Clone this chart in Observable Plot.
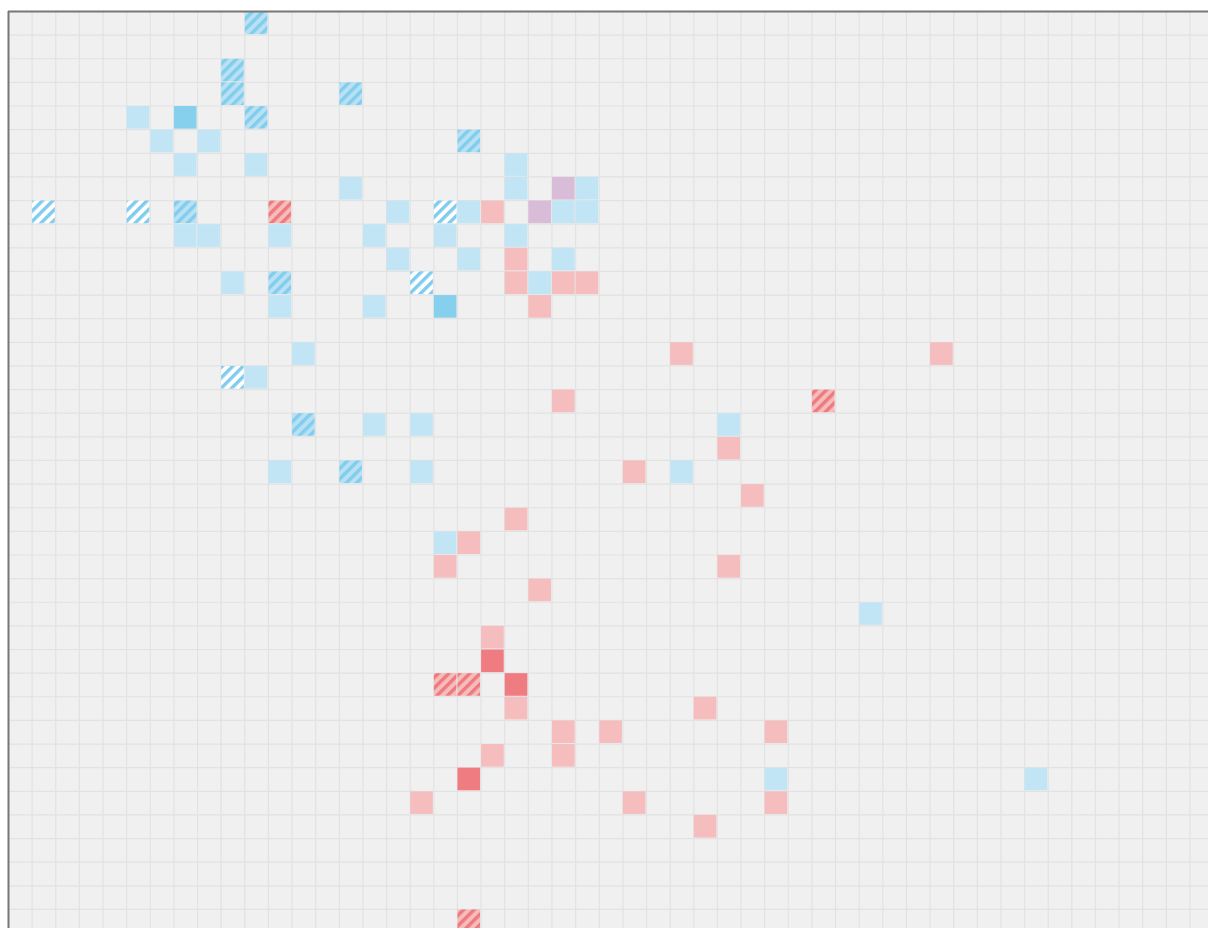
<!DOCTYPE html>
<html>
<head>
<meta charset="utf-8">
<script src="https://cdn.jsdelivr.net/npm/d3@7"></script>
<script src="https://cdn.jsdelivr.net/npm/@observablehq/plot@0.6"></script>
<style>
  html, body { margin: 0; padding: 0; background: #fff; overflow: hidden; }
  #chart svg { display: block; }
</style>
</head>
<body>
<div id="chart"></div>
<script>
// Grid geometry
const CELL = 23.63;
const COLS = 51;
const ROWS = 39;
const LEFT = 8;
const TOP = 11;

// Occupied cells, as [column, row] pairs per category
const blue = [
  [5, 4], [6, 5], [8, 5], [7, 6], [10, 6], [21, 6], [14, 7], [21, 7], [24, 7],
  [16, 8], [19, 8], [23, 8], [24, 8], [7, 9], [8, 9], [11, 9], [15, 9], [18, 9], [21, 9],
  [16, 10], [19, 10], [23, 10], [9, 11], [22, 11], [11, 12], [15, 12], [12, 14], [10, 15],
  [15, 17], [17, 17], [30, 17], [11, 19], [17, 19], [28, 19], [18, 22], [36, 25],
  [32, 32], [43, 32]
];
const blueStrong = [[7, 4], [18, 12]];
const red = [
  [20, 8], [21, 10], [21, 11], [23, 11], [24, 11], [22, 12], [28, 14], [39, 14], [23, 16],
  [30, 18], [26, 19], [31, 20], [21, 21], [19, 22], [18, 23], [30, 23], [22, 24], [20, 26],
  [21, 29], [29, 29], [23, 30], [25, 30], [32, 30], [20, 31], [23, 31], [17, 33], [26, 33],
  [32, 33], [29, 34]
];
const redStrong = [[20, 27], [21, 28], [19, 32]];
const mixed = [[23, 7], [22, 8]];
const blueHatched = [[10, 0], [9, 2], [9, 3], [14, 3], [10, 4], [19, 5], [7, 8], [11, 11], [12, 17], [14, 19]];
const blueHatchedOpen = [[1, 8], [5, 8], [18, 8], [17, 11], [9, 15]];
const redHatched = [[11, 8], [34, 16], [18, 28], [19, 28], [19, 38]];

const categories = [
  {cells: blue, fill: "#c2e5f5"},
  {cells: blueStrong, fill: "#86d0ee"},
  {cells: red, fill: "#f5bdbe"},
  {cells: redStrong, fill: "#ef7c80"},
  {cells: mixed, fill: "#d9bdd8"},
  {cells: blueHatched, fill: "url(#hatch-blue)"},
  {cells: blueHatchedOpen, fill: "url(#hatch-blue-open)"},
  {cells: redHatched, fill: "url(#hatch-red)"}
];

const hatches = [
  {id: "hatch-blue", bg: "#b8e1f4", stripe: "#82cdee"},
  {id: "hatch-blue-open", bg: "#ffffff", stripe: "#7fccee"},
  {id: "hatch-red", bg: "#f5bcbd", stripe: "#ee7a7e"}
];

// Diagonal stripe patterns
const patternDefs = () => {
  const defs = d3.create("svg:defs");
  const p = 7.4;
  for (const h of hatches) {
    const pat = defs.append("pattern")
      .attr("id", h.id)
      .attr("patternUnits", "userSpaceOnUse")
      .attr("width", p)
      .attr("height", p)
      .attr("patternTransform", "rotate(45)");
    pat.append("rect").attr("width", p).attr("height", p).attr("fill", h.bg);
    pat.append("rect").attr("width", p * 0.46).attr("height", p).attr("fill", h.stripe);
  }
  return defs.node();
};

const cellMarks = categories.map(({cells, fill}) =>
  Plot.rect(cells, {
    x1: d => d[0],
    x2: d => d[0] + 1,
    y1: d => d[1],
    y2: d => d[1] + 1,
    inset: 0.5,
    fill
  })
);

const chart = Plot.plot({
  width: 1208,
  height: 928,
  marginLeft: LEFT,
  marginTop: TOP,
  marginRight: 0,
  marginBottom: 0,
  x: {domain: [0, COLS], range: [LEFT, LEFT + COLS * CELL], axis: null},
  y: {domain: [0, ROWS], range: [TOP, TOP + ROWS * CELL], axis: null},
  marks: [
    patternDefs,
    Plot.frame({fill: "#f0f0f0", stroke: null}),
    Plot.ruleX(d3.range(1, COLS + 1), {stroke: "#e2e2e2", strokeWidth: 1.2}),
    Plot.ruleY(d3.range(1, ROWS + 1), {stroke: "#e2e2e2", strokeWidth: 1.2}),
    ...cellMarks,
    Plot.ruleX([0], {stroke: "#777777", strokeWidth: 2}),
    Plot.ruleY([0], {stroke: "#777777", strokeWidth: 2})
  ]
});

document.getElementById("chart").append(chart);
</script>
</body>
</html>
